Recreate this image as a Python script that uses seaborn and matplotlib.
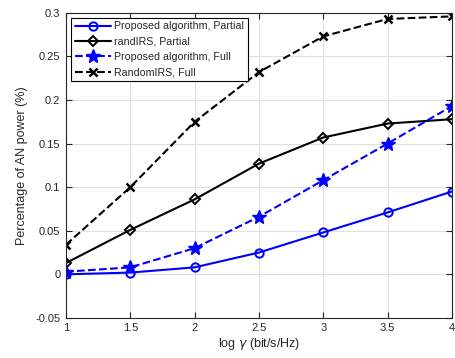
import matplotlib
matplotlib.use("Agg")
import matplotlib.pyplot as plt
import seaborn as sns
import pandas as pd

sns.set_theme(style="whitegrid")
plt.rcParams["font.family"] = ["Liberation Sans", "DejaVu Sans"]

gamma = [1, 1.5, 2, 2.5, 3, 3.5, 4]
proposed_partial = [0.000, 0.002, 0.008, 0.025, 0.048, 0.071, 0.095]
rand_partial = [0.013, 0.051, 0.086, 0.127, 0.157, 0.173, 0.178]
proposed_full = [0.003, 0.008, 0.030, 0.066, 0.108, 0.150, 0.193]
random_full = [0.034, 0.100, 0.175, 0.232, 0.273, 0.293, 0.296]

labels = ["Proposed algorithm, Partial", "randIRS, Partial",
          "Proposed algorithm, Full", "RandomIRS, Full"]
series = [proposed_partial, rand_partial, proposed_full, random_full]
styles = [
    dict(color="#0000ff", marker="o", ls="-", ms=6, mfc="none", mew=1.4),
    dict(color="black", marker="D", ls="-", ms=5.5, mfc="none", mew=1.4),
    dict(color="#0000ff", marker="*", ls="--", ms=10, mfc="#0000ff", mew=1),
    dict(color="black", marker="x", ls="--", ms=5.5, mfc="none", mew=1.8),
]

df = pd.DataFrame({
    "gamma": gamma * len(series),
    "value": sum(series, []),
    "scheme": sum([[l] * len(gamma) for l in labels], []),
})

fig = plt.figure(figsize=(4.55, 3.58), dpi=100)
ax = fig.add_axes([0.145, 0.112, 0.848, 0.852])

for lab, st in zip(labels, styles):
    sub = df[df["scheme"] == lab]
    sns.lineplot(data=sub, x="gamma", y="value", ax=ax, label=lab,
                 color=st["color"], linestyle=st["ls"], linewidth=1.5,
                 marker=st["marker"], markersize=st["ms"],
                 markerfacecolor=st["mfc"], markeredgecolor=st["color"],
                 markeredgewidth=st["mew"], dashes=False, errorbar=None)
    ax.lines[-1].set_linestyle(st["ls"])

ax.set_xlim(1, 4)
ax.set_ylim(-0.05, 0.3)
ax.set_xticks([1, 1.5, 2, 2.5, 3, 3.5, 4])
ax.set_xticklabels(["1", "1.5", "2", "2.5", "3", "3.5", "4"])
ax.set_yticks([-0.05, 0, 0.05, 0.1, 0.15, 0.2, 0.25, 0.3])
ax.set_yticklabels(["-0.05", "0", "0.05", "0.1", "0.15", "0.2", "0.25", "0.3"])
ax.tick_params(direction="in", length=4, width=0.8, labelsize=8,
               colors="#262626", pad=4, top=True, right=True,
               bottom=True, left=True)
ax.grid(True, color="#e0e0e0", linewidth=0.8)
for s in ax.spines.values():
    s.set_visible(True)
    s.set_color("#262626")
    s.set_linewidth(0.8)
ax.set_xlabel(r"log $\gamma$ (bit/s/Hz)", fontsize=9, labelpad=2)
ax.set_ylabel("Percentage of AN power (%)", fontsize=9, labelpad=5)

leg = ax.legend(loc="upper left", fontsize=7.7, frameon=True, fancybox=False,
                edgecolor="black", framealpha=1, borderpad=0.35,
                labelspacing=0.5, handlelength=3.4, handletextpad=0.3,
                borderaxespad=0.45)
leg.get_frame().set_linewidth(0.8)
for h, st in zip(leg.get_lines(), styles):
    h.set_linestyle(st["ls"])

fig.savefig("out.png", dpi=100)
